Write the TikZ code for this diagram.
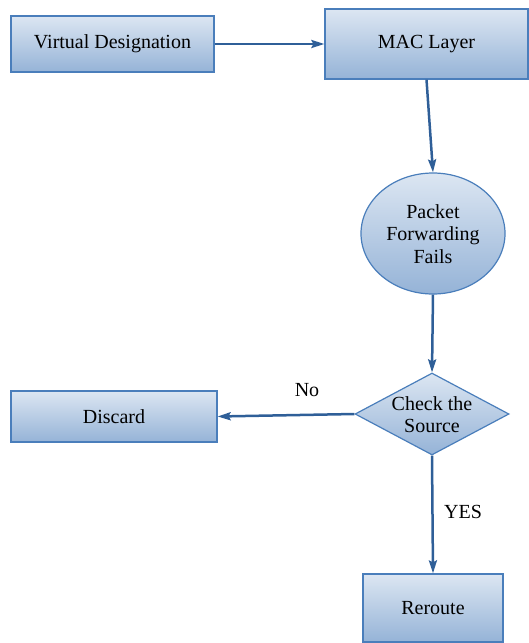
\documentclass[tikz,border=0pt]{standalone}
\usepackage{fontspec}
\setmainfont{Liberation Serif}
\usetikzlibrary{shapes.geometric,arrows.meta}
\definecolor{boxtop}{HTML}{DCE6F2}
\definecolor{boxbot}{HTML}{95B3D7}
\definecolor{boxline}{HTML}{4A7EBB}
\definecolor{arr}{HTML}{2F5F98}
\tikzset{
 fbox/.style={draw=boxline, line width=1.2pt, top color=boxtop, bottom color=boxbot, inner sep=0pt, font=\fontsize{20}{22.5}\selectfont, align=center},
 conn/.style={draw=arr, line width=2.5pt, -{Stealth[length=13pt,width=8pt,inset=2pt]}},
 lbl/.style={font=\fontsize{20}{22.5}\selectfont, align=center, inner sep=0pt}
}
\begin{document}
\begin{tikzpicture}[x=1pt,y=-1pt]
\useasboundingbox (0,0) rectangle (529,643);
\clip (0,0) rectangle (529,643);
\node[fbox, rectangle, minimum width=203, minimum height=56] (vd) at (112.5,44) {Virtual Designation};
\node[fbox, rectangle, minimum width=203, minimum height=70] (mac) at (426.5,44) {MAC Layer};
\node[fbox, ellipse, minimum width=144, minimum height=121] (ell) at (433,233.5) {};
\node[lbl] (elltext) at (433,234) {Packet\\Forwarding\\Fails};
\node[fbox, diamond, minimum width=154, minimum height=82] (dia) at (432,414) {};
\node[lbl] (diatext) at (432,414.5) {Check the\\Source};
\node[fbox, rectangle, minimum width=206, minimum height=51] (dis) at (114,416.5) {Discard};
\node[fbox, rectangle, minimum width=140, minimum height=68] (rer) at (433,608) {Reroute};
\draw[conn] (vd.east) -- (mac.west);
\draw[conn] (mac.south) -- (ell.north);
\draw[conn] (ell.south) -- (dia.north);
\draw[conn] (dia.west) -- (dis.east);
\draw[conn] (dia.south) -- (rer.north);
\node[lbl] (no) at (307,390) {No};
\node[lbl] (yes) at (463,512) {YES};
\end{tikzpicture}
\end{document}
